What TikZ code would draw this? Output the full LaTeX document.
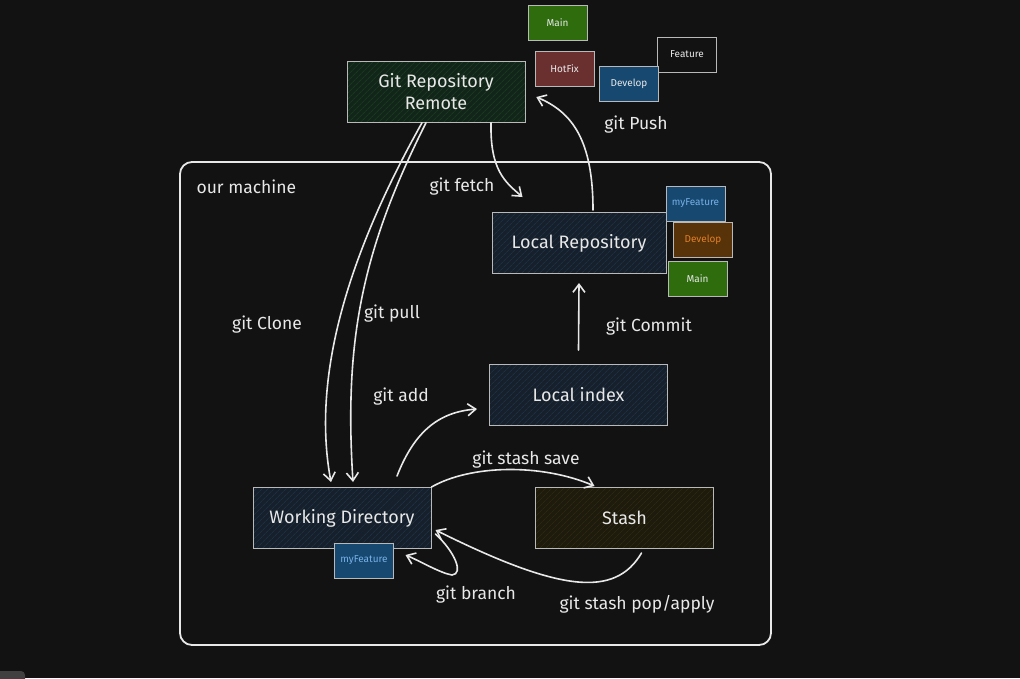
\documentclass[tikz,border=0pt]{standalone}
\usepackage{fontspec}
\setmainfont{Fira Sans}
\usetikzlibrary{arrows.meta,patterns.meta}

\definecolor{bg}{RGB}{18,18,18}
\definecolor{ink}{RGB}{232,232,232}
\definecolor{edge}{RGB}{185,185,185}
\definecolor{remotefill}{RGB}{17,38,24}
\definecolor{remotehatch}{RGB}{34,64,42}
\definecolor{localfill}{RGB}{21,32,44}
\definecolor{localhatch}{RGB}{38,56,74}
\definecolor{stashfill}{RGB}{30,26,12}
\definecolor{stashhatch}{RGB}{52,46,24}
\definecolor{tagmain}{RGB}{46,108,14}
\definecolor{taghot}{RGB}{106,48,48}
\definecolor{tagblue}{RGB}{22,72,112}
\definecolor{tagorange}{RGB}{88,50,8}
\definecolor{orangetext}{RGB}{225,128,40}
\definecolor{bluetext}{RGB}{120,175,230}

\begin{document}
\begin{tikzpicture}
[
    x=1pt, y=-1pt,
    box/.style={draw=edge, line width=1pt, minimum width=178pt, minimum height=61pt,
        text=ink, font=\fontsize{18}{22}\selectfont, align=center},
    hatch/.style={preaction={fill=#1fill},
        pattern={Lines[angle=45,distance=4pt,line width=0.5pt]}, pattern color=#1hatch},
    tag/.style={draw=edge, line width=1pt, minimum width=59pt, minimum height=35pt,
        text=ink, font=\fontsize{10}{11}\selectfont},
    frame/.style={draw=ink, line width=1.8pt, rounded corners=12pt},
    arr/.style={draw=ink, line width=1.6pt, line cap=round,
        -{Straight Barb[length=8pt,width=12pt]}},
    lbl/.style={text=ink, font=\fontsize{17.5}{20}\selectfont},
]
\useasboundingbox (0,0) rectangle (1020,678);
\fill[bg] (0,0) rectangle (1020,678);
\fill[black!75!white, rounded corners=4pt] (-10,671) rectangle (25,685);

% our machine
\node[frame, minimum width=591pt, minimum height=483pt] (machine) at (475.5,403.5) {};
\node[lbl, anchor=west] (machinelbl) at (193,187) {our machine};

% boxes
\node[box, hatch=remote] (remote) at (436,92) {Git Repository\\Remote};
\node[box, hatch=local, minimum width=174pt] (local) at (579,243) {Local Repository};
\node[box, hatch=local] (index) at (578.5,395) {Local index};
\node[box, hatch=local] (wd) at (342,518) {Working Directory};
\node[box, hatch=stash] (stash) at (624.5,518) {Stash};

% branch tags
\node[tag, fill=tagmain] (rmain) at (557.5,23) {Main};
\node[tag, fill=taghot] (rhotfix) at (564.5,69) {HotFix};
\node[tag, fill=bg] (rfeature) at (687,54.5) {Feature};
\node[tag, fill=tagblue] (rdevelop) at (629,83.5) {Develop};
\node[tag, fill=tagblue, text=bluetext] (lfeature) at (695.5,203.5) {myFeature};
\node[tag, fill=tagorange, text=orangetext] (ldevelop) at (703,239.5) {Develop};
\node[tag, fill=tagmain] (lmain) at (697.5,279) {Main};
\node[tag, fill=tagblue, text=bluetext] (wfeature) at (364,560.5) {myFeature};

% connectors
\draw[arr] ([xshift=-14pt]remote.south) .. controls (345,260) and (312,380) .. ([xshift=-11pt,yshift=5pt]wd.north);
\draw[arr] ([xshift=-10pt]remote.south) .. controls (362,250) and (344,340) .. ([xshift=11pt,yshift=5pt]wd.north);
\draw[arr] ([xshift=55pt]remote.south) .. controls (490,170) and (505,182) .. ([xshift=31pt,yshift=15pt]local.north west);
\draw[arr] ([xshift=14pt,yshift=2pt]local.north) .. controls (593,140) and (572,112) .. ([xshift=11pt,yshift=-5pt]remote.east);
\draw[arr] ([yshift=14pt]index.north) -- ([yshift=-9pt]local.south);
\draw[arr] ([xshift=55pt,yshift=11pt]wd.north) .. controls (415,430) and (440,412) .. ([xshift=-12pt,yshift=-14pt]index.west);
\draw[arr] (wd.north east) .. controls (470,465) and (540,463) .. ([xshift=-30pt,yshift=1pt]stash.north);
\draw[arr] ([xshift=17pt,yshift=-4pt]stash.south) .. controls (615,598) and (560,592) .. ([xshift=4pt,yshift=-12pt]wd.east);
\draw[arr] ([xshift=4pt,yshift=-16pt]wd.east) .. controls (455,552) and (464,574) .. (452,575) .. controls (440,573) and (420,561) .. ([xshift=-26pt,yshift=-37pt]wd.east);

% labels
\node[lbl] (clonelbl) at (267,325) {git Clone};
\node[lbl] (pulllbl) at (392,314) {git pull};
\node[lbl] (fetchlbl) at (462,187) {git fetch};
\node[lbl] (pushlbl) at (636,125) {git Push};
\node[lbl] (commitlbl) at (649,327) {git Commit};
\node[lbl] (addlbl) at (401,397) {git add};
\node[lbl] (savelbl) at (526,460) {git stash save};
\node[lbl] (branchlbl) at (476,595) {git branch};
\node[lbl] (poplbl) at (637,604) {git stash pop/apply};
\end{tikzpicture}
\end{document}
